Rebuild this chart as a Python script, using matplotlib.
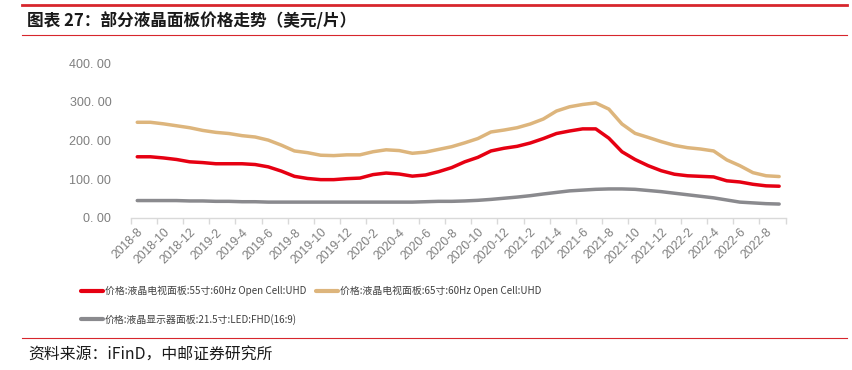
import numpy as np
import matplotlib
matplotlib.use("Agg")
import matplotlib.pyplot as plt
from matplotlib.lines import Line2D

plt.rcParams['font.family'] = ['Noto Sans CJK SC', 'DejaVu Sans']

# ---- data ----
months = []
y, m = 2018, 8
for _ in range(50):
    months.append(f"{y}-{m}")
    m += 1
    if m > 12:
        m = 1
        y += 1

tv55 = [158, 158, 155, 151, 145, 143, 140, 140, 140, 138,
        132, 121, 107.5, 102, 99, 99, 101.5, 103, 112, 116,
        113.5, 108, 111, 119.5, 130, 145, 156.5, 173, 180, 185,
        193.5, 205, 218, 224.5, 230, 230, 206, 171, 151, 135,
        122, 113, 109, 107.5, 106, 96, 93, 87, 83, 82]

tv65 = [247, 247, 243, 238, 233, 226, 221, 218, 212.5, 209,
        201, 188, 173, 168.6, 162, 161, 163, 163, 171, 176,
        174, 167, 170, 177, 184, 194, 205, 222, 227, 233,
        242.6, 255.5, 276, 287, 293, 297, 281, 242.6, 218.5, 208,
        197, 187.5, 181.5, 178, 173, 150, 135, 117, 109, 107]

mon215 = [45, 45, 45, 45, 44, 44, 43, 43, 42, 42,
          41, 41, 41, 41, 41, 41, 41, 41, 41, 41,
          41, 41, 42, 43, 43, 44, 45.6, 48, 51, 54,
          57.6, 62, 66, 70, 72, 74, 75, 75, 74, 71,
          68, 64, 60, 56, 52, 46.5, 41, 39, 37, 36]

labels = ["价格:液晶电视面板:55寸:60Hz Open Cell:UHD",
          "价格:液晶电视面板:65寸:60Hz Open Cell:UHD",
          "价格:液晶显示器面板:21.5寸:LED:FHD(16:9)"]
colors = ["#E60012", "#DDB57C", "#8A8A8E"]

yticks = [0, 100, 200, 300, 400]
ytick_labels = ["0. 00", "100. 00", "200. 00", "300. 00", "400. 00"]

# ---- figure ----
W, H = 853, 370
fig = plt.figure(figsize=(W / 100, H / 100), dpi=100)
ax = fig.add_axes([130.7 / W, (H - 218) / H, 655 / W, 155 / H])

x = np.arange(len(months))
lw = 2.5
l1, = ax.plot(x, tv55, color=colors[0], lw=lw, solid_capstyle='round', zorder=3)
l2, = ax.plot(x, tv65, color=colors[1], lw=lw, solid_capstyle='round', zorder=3)
l3, = ax.plot(x, mon215, color=colors[2], lw=lw, solid_capstyle='round', zorder=2)

ax.set_xlim(-0.5, len(months) - 0.5)
ax.set_ylim(0, 400)

for s in ['top', 'right', 'left']:
    ax.spines[s].set_visible(False)
ax.spines['bottom'].set_color('#D9D9D9')
ax.spines['bottom'].set_linewidth(1.0)

ax.set_yticks(yticks)
ax.set_yticklabels(ytick_labels, family=['Liberation Sans', 'DejaVu Sans'],
                   fontsize=9, color='#7F7F7F')
ax.tick_params(axis='y', length=0, pad=14)

major = np.arange(0, len(months), 2)
ax.set_xticks(major)
ax.set_xticklabels([months[i] for i in major], rotation=45, ha='right',
                   rotation_mode='anchor', family=['Liberation Sans', 'DejaVu Sans'],
                   fontsize=8.8, color='#7F7F7F')
ax.tick_params(axis='x', which='major', length=0, pad=6)
ax.set_xticks(np.arange(-0.5, len(months), 2), minor=True)
ax.tick_params(axis='x', which='minor', length=4, color='#D9D9D9', width=1)

# legend
handles = [l1, l3, l2]
labs = [labels[0], labels[2], labels[1]]
leg = fig.legend(handles, labs, ncol=2, loc='upper left',
                 bbox_to_anchor=(81 / W, 1 - 286 / H), frameon=False,
                 fontsize=7.1, handlelength=2.2, handletextpad=0.2,
                 columnspacing=1.0, labelspacing=1.75, borderaxespad=0,
                 borderpad=0)
for t in leg.get_texts():
    t.set_color('#404040')
for h in leg.legend_handles:
    h.set_linewidth(3.0)

# title & decorations
fig.add_artist(Line2D([22 / W, 847 / W], [1 - 5 / H, 1 - 5 / H], color='#D7262D', lw=2.0))
fig.add_artist(Line2D([22 / W, 847 / W], [1 - 35 / H, 1 - 35 / H], color='#D7262D', lw=0.8))
fig.text(27 / W, 1 - 21 / H, "图表 27：部分液晶面板价格走势（美元/片）", fontsize=12,
         fontweight='bold', color='#1A1A1A', va='center', ha='left')

fig.add_artist(Line2D([22 / W, 847 / W], [1 - 337.5 / H, 1 - 337.5 / H], color='#D7262D', lw=0.8))
fig.text(28 / W, 1 - 355 / H, "资料来源：iFinD，中邮证券研究所", fontsize=11.4,
         color='#1A1A1A', va='center', ha='left')

fig.savefig("out.png", dpi=100)
